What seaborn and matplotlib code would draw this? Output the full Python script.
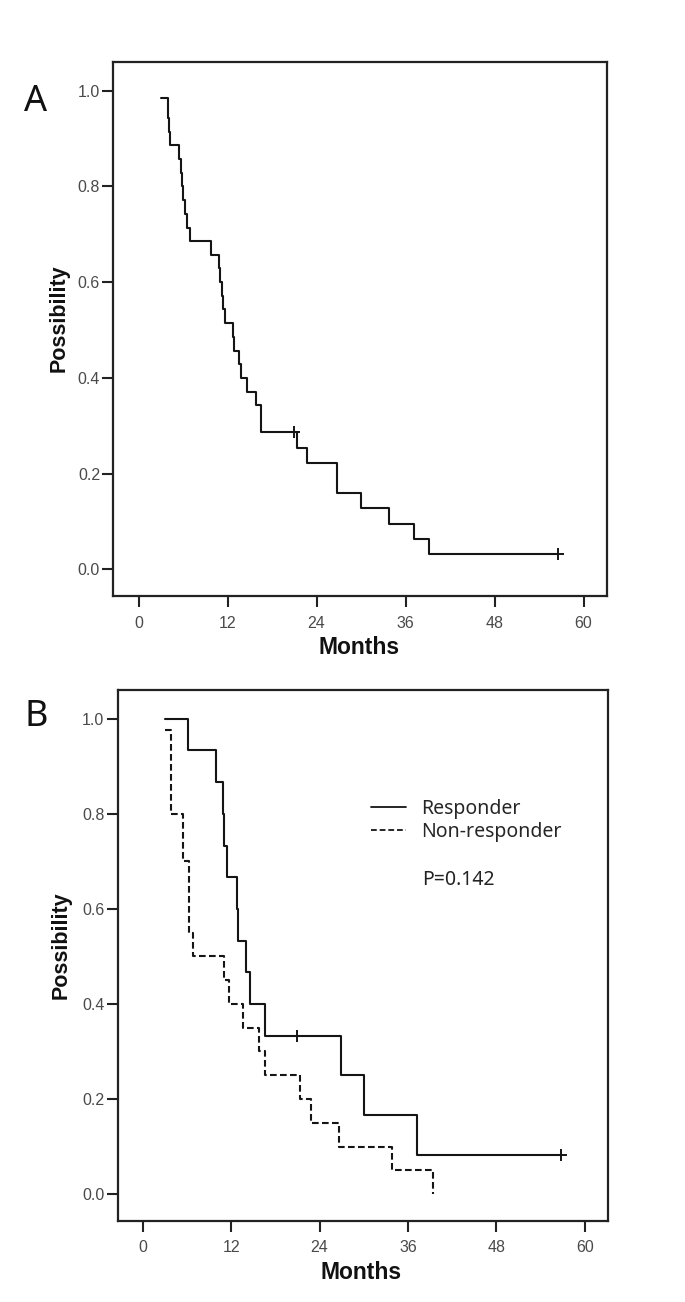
import pandas as pd
import matplotlib
matplotlib.use('Agg')
import matplotlib.pyplot as plt
import seaborn as sns

# Estilo
sns.set_theme(style='white')
plt.rcParams['font.family'] = ['Liberation Sans', 'DejaVu Sans']

# Datos (meses, supervivencia)
# Panel A: todos los pacientes
meses_a = [3.0, 4.0, 4.1, 4.3, 5.5, 5.7, 5.85, 6.0, 6.2, 6.5, 6.9, 9.8, 10.8, 11.0,
           11.2, 11.4, 11.6, 12.8, 12.9, 13.5, 13.8, 14.6, 15.9, 16.5, 21.4, 22.7,
           26.7, 30.0, 33.8, 37.1, 39.2, 56.6]
surv_a = [0.985, 0.943, 0.914, 0.886, 0.857, 0.829, 0.800, 0.771, 0.743, 0.714,
          0.686, 0.657, 0.629, 0.600, 0.571, 0.543, 0.514, 0.486, 0.457, 0.429,
          0.400, 0.371, 0.343, 0.286, 0.254, 0.222, 0.159, 0.127, 0.095, 0.063,
          0.032, 0.032]
cens_meses_a = [21.0, 56.6]
cens_surv_a = [0.286, 0.032]

# Panel B: respondedores / no respondedores
meses_resp = [3.0, 6.1, 9.9, 10.9, 11.0, 11.4, 12.8, 12.9, 14.0, 14.5, 16.6, 26.9,
              30.0, 37.2, 56.8]
surv_resp = [1.000, 0.933, 0.867, 0.800, 0.733, 0.667, 0.600, 0.533, 0.467, 0.400,
             0.333, 0.250, 0.167, 0.083, 0.083]
cens_meses_resp = [21.0, 56.8]
cens_surv_resp = [0.333, 0.083]

meses_noresp = [3.0, 3.9, 5.4, 5.5, 6.3, 6.8, 11.0, 11.7, 13.6, 15.8, 16.6, 21.3,
                22.8, 26.7, 33.8, 39.4]
surv_noresp = [0.975, 0.800, 0.750, 0.700, 0.550, 0.500, 0.450, 0.400, 0.350,
               0.300, 0.250, 0.200, 0.150, 0.100, 0.050, 0.000]

grupos = ['Responder', 'Non-responder']
x_ticks = [0, 12, 24, 36, 48, 60]
y_ticks = [0.0, 0.2, 0.4, 0.6, 0.8, 1.0]
p_valor = 'P=0.142'

df_b = pd.concat([
    pd.DataFrame({'Months': meses_resp, 'Possibility': surv_resp, 'Grupo': grupos[0]}),
    pd.DataFrame({'Months': meses_noresp, 'Possibility': surv_noresp, 'Grupo': grupos[1]}),
], ignore_index=True)

color_linea = '#151515'
color_eje = '#222222'


def formato_ejes(ax, xlab_y, ylab_x):
    ax.set_xlim(-3.4, 63.2)
    ax.set_ylim(-0.056, 1.06)
    ax.set_xticks(x_ticks)
    ax.set_yticks(y_ticks)
    for s in ax.spines.values():
        s.set_visible(True)
        s.set_linewidth(1.6)
        s.set_color(color_eje)
    ax.tick_params(axis='both', direction='out', length=8, width=1.5,
                   bottom=True, left=True, top=False, right=False,
                   color=color_eje, labelsize=11.5, labelcolor='#4a4a4a')
    ax.tick_params(axis='x', pad=6)
    ax.tick_params(axis='y', pad=1.5)
    ax.set_xlabel('Months', fontsize=16.5, fontweight='bold', color='#111111')
    ax.set_ylabel('Possibility', fontsize=15.5, fontweight='bold', color='#111111')
    ax.xaxis.set_label_coords(0.497, xlab_y)
    ax.yaxis.set_label_coords(ylab_x, 0.52)
    ax.grid(False)


fig = plt.figure(figsize=(6.85, 13.02), dpi=100)
ax_a = fig.add_axes([0.1654, 0.5422, 0.7212, 0.4102])
ax_b = fig.add_axes([0.1718, 0.0624, 0.7162, 0.4076])

# Panel A
sns.lineplot(x=meses_a, y=surv_a, ax=ax_a, drawstyle='steps-post', estimator=None,
             sort=False, color=color_linea, linewidth=1.5)
sns.scatterplot(x=cens_meses_a, y=cens_surv_a, ax=ax_a, marker='+', s=70,
                color=color_linea, linewidth=1.4, legend=False, zorder=3)
formato_ejes(ax_a, -0.075, -0.088)

# Panel B
sns.lineplot(data=df_b, x='Months', y='Possibility', style='Grupo', ax=ax_b,
             dashes={'Responder': '', 'Non-responder': (3.2, 1.6)},
             drawstyle='steps-post', estimator=None, sort=False,
             color=color_linea, linewidth=1.5)
sns.scatterplot(x=cens_meses_resp, y=cens_surv_resp, ax=ax_b, marker='+', s=70,
                color=color_linea, linewidth=1.4, legend=False, zorder=3)
formato_ejes(ax_b, -0.076, -0.093)

handles, labels = ax_b.get_legend_handles_labels()
for h in handles:
    h.set_color(color_linea)
    h.set_linewidth(1.3)
ax_b.legend(handles, labels, loc='upper left', bbox_to_anchor=(0.496, 0.813),
            frameon=False, borderpad=0, handlelength=1.8, handletextpad=0.8,
            labelspacing=0.15, prop={'family': 'Noto Sans', 'size': 14})
ax_b.text(0.62, 0.642, p_valor, transform=ax_b.transAxes, ha='left', va='center',
          fontsize=14, family='Noto Sans', color='#222222')

# Letras de panel
fig.text(36 / 685, 1 - 102 / 1302, 'A', fontsize=26, family='Noto Sans',
         ha='center', va='center', color='#111111')
fig.text(36.7 / 685, 1 - 717 / 1302, 'B', fontsize=26, family='Noto Sans',
         ha='center', va='center', color='#111111')

fig.savefig('out.png', dpi=100)
